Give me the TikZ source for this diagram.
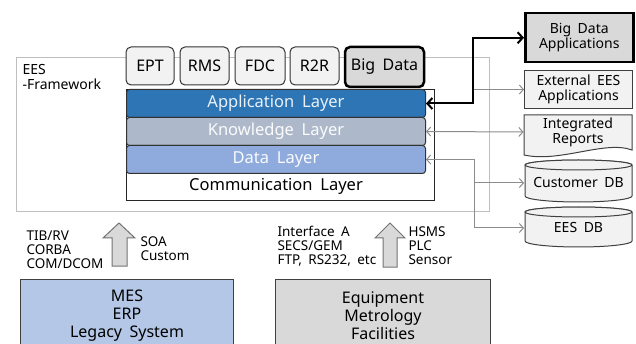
\documentclass[tikz,border=0pt]{standalone}
\usepackage{fontspec}
\setmainfont[WordSpace=1.8]{Noto Sans}
\usetikzlibrary{arrows.meta}

\definecolor{appblue}{HTML}{2E75B6}
\definecolor{knowgray}{HTML}{ADB9CA}
\definecolor{datablue}{HTML}{8FAADC}
\definecolor{mesblue}{HTML}{B4C7E7}
\definecolor{boxgray}{HTML}{D9D9D9}
\definecolor{lightbox}{HTML}{F2F2F2}
\definecolor{framegray}{HTML}{BFBFBF}
\definecolor{linegray}{HTML}{8C8C8C}

\begin{document}
\begin{tikzpicture}[x=1pt, y=-1pt, line width=1pt,
    tab/.style={draw=black!80, fill=lightbox, rounded corners=5pt, minimum height=38pt, inner sep=0pt, font=\fontsize{16}{18}\selectfont},
    layer/.style={draw=black!80, rounded corners=3pt, anchor=north west, minimum width=299pt, minimum height=28pt, inner sep=0pt, font=\fontsize{16.5}{18}\selectfont},
    side/.style={draw=black!75, fill=lightbox, anchor=north west, minimum width=108pt, inner sep=0pt, align=center, font=\fontsize{14}{15}\selectfont},
    sidetext/.style={minimum width=108pt, inner sep=0pt, align=center, font=\fontsize{14}{15}\selectfont},
    proto/.style={anchor=north west, align=left, inner sep=0pt, font=\fontsize{13.5}{14}\selectfont},
    source/.style={draw=black!75, anchor=north west, minimum height=72pt, inner sep=0pt, align=center, font=\fontsize{16}{18}\selectfont},
    feed/.style={draw=linegray, -{Straight Barb[length=4pt,width=9pt]}},
    feedboth/.style={draw=linegray, {Straight Barb[length=4pt,width=9pt]}-{Straight Barb[length=4pt,width=9pt]}},
    blockarrow/.style={draw=black!55, fill=boxgray},
    db/.style={draw=black!75, fill=lightbox}
]
    \useasboundingbox (0,0) rectangle (636,344);

    % framework
    \draw[framegray] (16,58) rectangle (489,212);
    \node[anchor=north west, align=left, inner sep=0pt, font=\fontsize{14}{15}\selectfont] (eeslabel) at (22,64) {EES\\-Framework};

    % modules
    \node[tab, minimum width=48pt] (ept) at (150,66) {EPT};
    \node[tab, minimum width=49pt] (rms) at (204.5,66) {RMS};
    \node[tab, minimum width=50pt] (fdc) at (260,66) {FDC};
    \node[tab, minimum width=49pt] (rtr) at (314.5,66) {R2R};
    \node[tab, minimum width=79pt, minimum height=40pt, fill=boxgray, draw=black, line width=2.5pt] (bigdata) at (384.5,67) {Big Data};

    % layers
    \node[draw=black!85, fill=white, anchor=north west, minimum width=308pt, minimum height=111pt, inner sep=0pt] (stack) at (126,89) {};
    \node[layer, fill=appblue, text=white!90!appblue] (applayer) at (126,89) {Application Layer};
    \node[layer, fill=knowgray, text=white!95!knowgray] (knowlayer) at (126,117) {Knowledge Layer};
    \node[layer, fill=datablue, text=white!95!datablue] (datalayer) at (126,145) {Data Layer};
    \node[inner sep=0pt, font=\fontsize{16.5}{18}\selectfont] (commlayer) at (276,186) {Communication Layer};

    % outputs
    \node[side, fill=boxgray, draw=black, line width=2.5pt, minimum height=49pt] (bigapp) at (524,12) {Big Data\\Applications};
    \node[side, minimum height=38pt] (extapp) at (524,70) {External EES\\Applications};
    \draw[db] (524,115) -- (632,115) -- (632,150) .. controls (605,140) and (560,163) .. (524,155) -- cycle;
    \node[sidetext] (reports) at (578,132) {Integrated\\Reports};
    \draw[db] (525,165) -- (525,196) arc[start angle=180, end angle=360, x radius=53.5pt, y radius=6pt] -- (632,165) arc[start angle=0, end angle=180, x radius=53.5pt, y radius=5pt] -- cycle;
    \draw[db] (578.5,165) ellipse[x radius=53.5pt, y radius=5pt];
    \node[sidetext] (custdb) at (578.5,183) {Customer DB};
    \draw[db] (525,212) -- (525,241) arc[start angle=180, end angle=360, x radius=53.5pt, y radius=6pt] -- (632,212) arc[start angle=0, end angle=180, x radius=53.5pt, y radius=5pt] -- cycle;
    \draw[db] (578.5,212) ellipse[x radius=53.5pt, y radius=5pt];
    \node[sidetext] (eesdb) at (578.5,228) {EES DB};

    % connectors
    \coordinate (hub) at (473,0);
    \coordinate (split) at (474,0);
    \draw[feed] (hub |- extapp.west) -- (extapp.west);
    \draw[feedboth] (knowlayer.east) -- (reports.west);
    \draw[feedboth] (datalayer.east) -- (datalayer.east -| split) |- (eesdb.west);
    \draw[feed] (split |- custdb.west) -- (custdb.west);
    \draw[line width=2pt, {Straight Barb[length=5pt,width=11pt]}-{Straight Barb[length=5pt,width=11pt]}] (applayer.east) -- (applayer.east -| hub) |- (bigapp.west);

    % interfaces
    \draw[blockarrow] (119,223) -- (135,238) -- (127,238) -- (127,266) -- (112,266) -- (112,238) -- (103,238) -- cycle;
    \draw[blockarrow] (390,223) -- (405,238) -- (397,238) -- (397,267) -- (383,267) -- (383,238) -- (375,238) -- cycle;
    \node[proto] (msgbus) at (26,230) {TIB/RV\\CORBA\\COM/DCOM};
    \node[proto] (soa) at (140,236) {SOA\\Custom};
    \node[proto] (semi) at (277,226) {Interface A\\SECS/GEM\\FTP, RS232, etc};
    \node[proto] (hsms) at (408,226) {HSMS\\PLC\\Sensor};

    % sources
    \node[source, fill=mesblue, minimum width=213pt] (mes) at (20,279) {MES\\ERP\\Legacy System};
    \node[source, fill=boxgray, minimum width=215pt] (equip) at (275,279) {Equipment\\Metrology\\Facilities};
\end{tikzpicture}
\end{document}
